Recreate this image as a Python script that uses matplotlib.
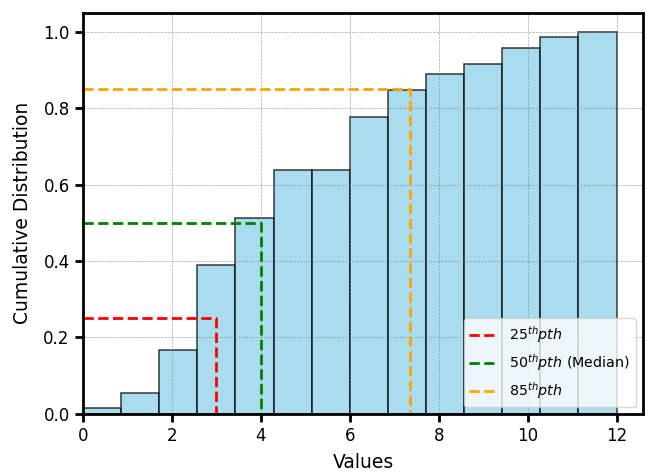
import matplotlib
matplotlib.use("Agg")
import matplotlib.pyplot as plt
import numpy as np

# cumulative fraction per bin (14 equal bins between 0 and 12)
bin_lo = 0
bin_hi = 12
cum_frac = [0.0139, 0.0556, 0.1667, 0.3889, 0.5139, 0.6389, 0.6389,
            0.7778, 0.8472, 0.8889, 0.9167, 0.9583, 0.9861, 1.0]

# percentile markers
pct_values = [3.0, 4.0, 7.35]
pct_levels = [0.25, 0.50, 0.85]
pct_colors = ['red', 'green', 'orange']
pct_labels = [r'$25^{th} pth$', r'$50^{th} pth$ (Median)', r'$85^{th} pth$']

edges = np.linspace(bin_lo, bin_hi, len(cum_frac) + 1)
widths = np.diff(edges)

fig = plt.figure(figsize=(6.53, 4.74), dpi=100)
ax = fig.add_axes([0.127, 0.127, 0.858, 0.846])

ax.bar(edges[:-1], cum_frac, width=widths, align='edge',
       color='skyblue', edgecolor='black', alpha=0.7, linewidth=1.2)

for x, p, c, lab in zip(pct_values, pct_levels, pct_colors, pct_labels):
    ax.plot([0, x, x], [p, p, 0], color=c, linestyle='--', linewidth=2, label=lab)

ax.set_xlim(0, 12.6)
ax.set_ylim(0, 1.05)
ax.grid(color='gray', linestyle='--', linewidth=0.5, alpha=0.7)
ax.set_xlabel('Values', fontsize=13.5, labelpad=6)
ax.set_ylabel('Cumulative Distribution', fontsize=13.5, labelpad=8)
ax.tick_params(labelsize=12, width=2, length=6)
for s in ax.spines.values():
    s.set_linewidth(2)
ax.legend(loc='lower right', fontsize=10.3)

fig.savefig('out.png', dpi=100)
